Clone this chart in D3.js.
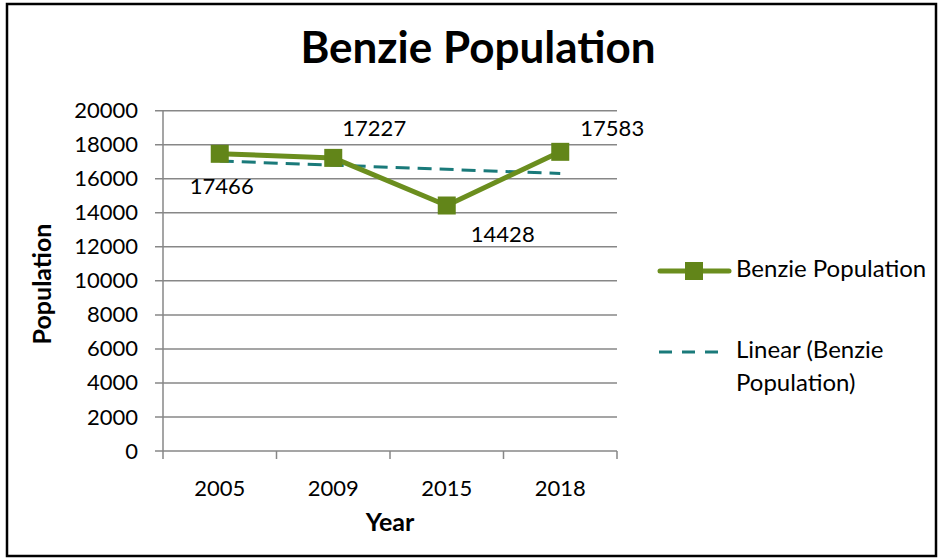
<!DOCTYPE html>
<html><head><meta charset="utf-8">
<script src="https://cdn.jsdelivr.net/npm/d3@7"></script>
<style>body{margin:0;background:#fff}svg{display:block}text{font-family:Lato,"Open Sans",sans-serif}</style>
</head><body><svg id="c" width="938" height="559"></svg>
<script>
const categories = ["2005","2009","2015","2018"];
const population = [17466, 17227, 14428, 17583];
const trendEnds = [17043, 16309];
const yTicks = [0,2000,4000,6000,8000,10000,12000,14000,16000,18000,20000];

const svg = d3.select("#c");
svg.append("rect").attr("x",7).attr("y",4).attr("width",929).attr("height",552)
  .attr("fill","#fff").attr("stroke","#000").attr("stroke-width",2.5);

const L=163,R=617,T=110.7,B=451;
const x = d3.scaleBand().domain(categories).range([L,R]);
const y = d3.scaleLinear().domain([0,20000]).range([B,T]);
const gridC="#878787";

svg.append("g").selectAll("line").data(yTicks).join("line")
  .attr("x1",L-8).attr("x2",R).attr("y1",d=>y(d)).attr("y2",d=>y(d))
  .attr("stroke",gridC).attr("stroke-width",1.5);
svg.append("line").attr("x1",L).attr("x2",L).attr("y1",T).attr("y2",B).attr("stroke",gridC).attr("stroke-width",1.5);
const yAx = svg.append("g").attr("transform",`translate(${L},0)`)
  .call(d3.axisLeft(y).tickValues(yTicks).tickSize(0).tickPadding(25).tickFormat(d3.format("d")));
yAx.select(".domain").remove();
yAx.selectAll("text").attr("font-size",22).attr("fill","#000").attr("font-family","Lato");
const bounds = categories.map(c=>x(c)).concat([R]);
svg.append("g").selectAll("line").data(bounds).join("line")
  .attr("x1",d=>d).attr("x2",d=>d).attr("y1",B).attr("y2",B+8).attr("stroke",gridC).attr("stroke-width",1.5);
const xAx = svg.append("g").attr("transform",`translate(0,${B})`)
  .call(d3.axisBottom(x).tickSize(0).tickPadding(29));
xAx.select(".domain").remove();
xAx.selectAll("text").attr("font-size",22).attr("fill","#000").attr("font-family","Lato");

const cx = c=>x(c)+x.bandwidth()/2;
svg.append("line").attr("x1",cx(categories[0])).attr("x2",cx(categories[3]))
  .attr("y1",y(trendEnds[0])).attr("y2",y(trendEnds[1]))
  .attr("stroke","#1a7a7a").attr("stroke-width",3).attr("stroke-dasharray","14,8");
const green="#6b8e1e";
svg.append("path").datum(population)
  .attr("d",d3.line().x((d,i)=>cx(categories[i])).y(d=>y(d)))
  .attr("fill","none").attr("stroke",green).attr("stroke-width",5).attr("stroke-linejoin","round");
svg.append("g").selectAll("rect").data(population).join("rect")
  .attr("x",(d,i)=>cx(categories[i])-9).attr("y",d=>y(d)-9).attr("width",18).attr("height",18)
  .attr("fill","#628519");
const offs = [[2,35],[41,-27],[56,31],[52,-21]];
svg.append("g").selectAll("text").data(population).join("text")
  .attr("x",(d,i)=>cx(categories[i])+offs[i][0]).attr("y",(d,i)=>y(d)+offs[i][1])
  .attr("text-anchor","middle").attr("dominant-baseline","middle")
  .attr("font-size",22).text(d=>d);

svg.append("text").attr("x",478).attr("y",52).attr("text-anchor","middle").attr("dominant-baseline","middle")
  .attr("font-size",44).attr("font-weight","bold").text("Benzie Population");
svg.append("text").attr("transform","translate(45,284) rotate(-90)").attr("text-anchor","middle")
  .attr("dominant-baseline","middle").attr("font-size",25).attr("font-weight","bold").text("Population");
svg.append("text").attr("x",390).attr("y",525).attr("text-anchor","middle").attr("dominant-baseline","middle")
  .attr("font-size",25).attr("font-weight","bold").text("Year");

svg.append("line").attr("x1",660).attr("x2",729).attr("y1",271).attr("y2",271).attr("stroke",green).attr("stroke-width",5).attr("stroke-linecap","round");
svg.append("rect").attr("x",685).attr("y",262).attr("width",18).attr("height",18).attr("fill","#628519");
svg.append("text").attr("x",736).attr("y",271).attr("dominant-baseline","middle").attr("font-size",24).text("Benzie Population");
svg.append("line").attr("x1",659).attr("x2",720).attr("y1",352).attr("y2",352).attr("stroke","#1a7a7a").attr("stroke-width",3).attr("stroke-dasharray","13,10");
svg.append("text").attr("x",736).attr("y",352).attr("dominant-baseline","middle").attr("font-size",24).text("Linear (Benzie");
svg.append("text").attr("x",736).attr("y",385).attr("dominant-baseline","middle").attr("font-size",24).text("Population)");
</script></body></html>
